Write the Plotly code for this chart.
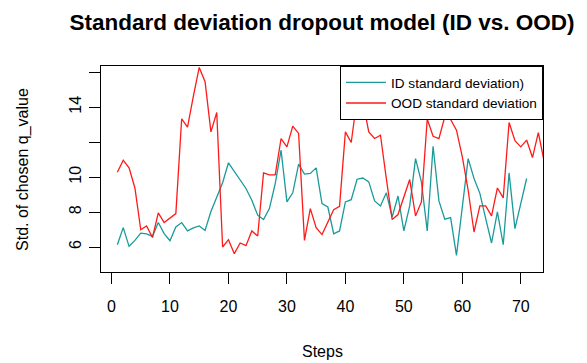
import plotly.graph_objects as go

id_sd = [6.13, 7.11, 6.04, 6.38, 6.79, 6.75, 6.61, 7.40, 6.77, 6.36,
         7.15, 7.40, 6.92, 7.09, 7.21, 6.95, 8.03, 8.87, 9.68, 10.82,
         10.34, 9.88, 9.35, 8.68, 7.82, 7.57, 8.20, 9.63, 11.54, 8.58,
         9.10, 10.74, 10.17, 10.21, 10.53, 8.48, 8.29, 6.76, 6.92, 8.58,
         8.71, 9.88, 9.95, 9.73, 8.64, 8.35, 9.10, 7.72, 8.92, 6.92,
         8.35, 11.06, 9.73, 6.92, 11.77, 8.64, 7.59, 7.68, 5.52, 8.29,
         11.06, 9.92, 9.07, 7.63, 6.23, 8.01, 6.13, 10.24, 7.05, 8.48,
         9.92]

ood_sd = [10.28, 10.97, 10.53, 9.38, 6.99, 7.21, 6.54, 7.95, 7.40, 7.63,
          7.91, 13.34, 12.86, 14.64, 16.28, 15.46, 12.59, 13.70, 6.00, 6.42,
          5.62, 6.23, 6.08, 6.92, 6.63, 10.24, 10.13, 10.13, 12.21, 11.73,
          12.92, 12.50, 6.38, 8.20, 7.11, 6.71, 7.40, 8.14, 8.33, 12.59,
          11.98, 14.50, 14.30, 12.59, 12.21, 12.40, 9.92, 7.57, 7.86, 8.87,
          9.86, 7.78, 8.58, 13.33, 12.34, 12.21, 13.45, 13.30, 12.69, 11.16,
          9.25, 6.86, 8.35, 8.35, 7.78, 9.38, 8.81, 13.13, 12.08, 11.73,
          12.12, 11.12, 12.55, 10.90]

steps_id = list(range(1, len(id_sd) + 1))
steps_ood = list(range(1, len(ood_sd) + 1))

x_ticks = [0, 10, 20, 30, 40, 50, 60, 70]
y_ticks = [6, 8, 10, 12, 14, 16]
y_tick_text = ["6", "8", "10", "", "14", ""]

FONT = "Liberation Sans, Arial, Helvetica, sans-serif"

fig = go.Figure()
fig.add_trace(go.Scatter(x=steps_id, y=id_sd, mode="lines",
                         line=dict(color="#1a9a9a", width=1.3),
                         name="ID standard deviation)"))
fig.add_trace(go.Scatter(x=steps_ood, y=ood_sd, mode="lines",
                         line=dict(color="#ff1a1a", width=1.3),
                         name="OOD standard deviation"))

fig.update_layout(
    width=587, height=363,
    margin=dict(l=101, r=44, t=66, b=91),
    paper_bgcolor="white", plot_bgcolor="white",
    font=dict(family=FONT, size=16, color="black"),
    showlegend=True,
    title=dict(text="<b>Standard deviation dropout model (ID vs. OOD)</b>",
               x=0.5, xref="paper", xanchor="center",
               y=1 - 22 / 363, yref="container", yanchor="middle",
               font=dict(family=FONT, size=22.5, color="black")),
    legend=dict(x=1, y=1, xanchor="right", yanchor="top",
                bgcolor="white", bordercolor="black", borderwidth=1,
                font=dict(family=FONT, size=13.6, color="black"),
                tracegroupgap=0, itemwidth=40),
    xaxis=dict(range=[-1.8, 73.8], tickvals=x_ticks, showgrid=False,
               zeroline=False, showline=True, mirror=True, linecolor="black",
               linewidth=1, ticks="outside", ticklen=11, tickcolor="black",
               tickfont=dict(size=16), ticklabelstandoff=9),
    yaxis=dict(range=[4.57, 16.36], tickvals=y_ticks, ticktext=y_tick_text,
               showgrid=False, zeroline=False, showline=True, mirror=True,
               linecolor="black", linewidth=1, ticks="outside", ticklen=11,
               tickcolor="black", tickangle=-90, tickfont=dict(size=16),
               ticklabelstandoff=2),
    annotations=[
        dict(text="Steps", xref="paper", yref="paper", x=0.5, y=-0.3855,
             xanchor="center", yanchor="middle", showarrow=False,
             font=dict(size=16)),
        dict(text="Std. of chosen q_value", xref="paper", yref="paper",
             x=-0.177, y=0.499, xanchor="center", yanchor="middle",
             textangle=-90, showarrow=False, font=dict(size=16)),
    ],
)

fig.write_html("out.html")
